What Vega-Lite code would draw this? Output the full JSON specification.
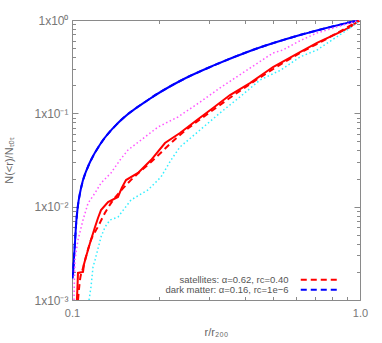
{
  "$schema": "https://vega.github.io/schema/vega-lite/v6.json",
  "width": 288,
  "height": 280,
  "autosize": {"type": "none"},
  "padding": {"left": 72, "top": 20, "right": 22, "bottom": 43},
  "background": "white",
  "config": {
    "view": {"stroke": "#8a8a8a", "strokeWidth": 1},
    "font": "Liberation Sans",
    "axis": {"labelFont": "Liberation Sans", "titleFont": "Liberation Sans", "tickColor": "#8a8a8a", "grid": false, "domain": false},
    "legend": {"rowPadding": -8}
  },
  "datasets": {
    "curves": [
      {"s": "dm", "x": 0.1008, "y": 0.00185},
      {"s": "dm", "x": 0.1016, "y": 0.00282},
      {"s": "dm", "x": 0.1024, "y": 0.00408},
      {"s": "dm", "x": 0.1032, "y": 0.0062},
      {"s": "dm", "x": 0.1049, "y": 0.0104},
      {"s": "dm", "x": 0.1066, "y": 0.014},
      {"s": "dm", "x": 0.1092, "y": 0.0193},
      {"s": "dm", "x": 0.1127, "y": 0.0253},
      {"s": "dm", "x": 0.1164, "y": 0.0316},
      {"s": "dm", "x": 0.1261, "y": 0.0481},
      {"s": "dm", "x": 0.1444, "y": 0.0788},
      {"s": "dm", "x": 0.1836, "y": 0.139},
      {"s": "dm", "x": 0.2371, "y": 0.222},
      {"s": "dm", "x": 0.3137, "y": 0.33},
      {"s": "dm", "x": 0.415, "y": 0.466},
      {"s": "dm", "x": 0.619, "y": 0.69},
      {"s": "dm", "x": 1.0, "y": 1.0},

      {"s": "dmfit", "x": 0.1005, "y": 0.0017},
      {"s": "dmfit", "x": 0.1015, "y": 0.0027},
      {"s": "dmfit", "x": 0.1023, "y": 0.0040},
      {"s": "dmfit", "x": 0.1032, "y": 0.0061},
      {"s": "dmfit", "x": 0.1049, "y": 0.0103},
      {"s": "dmfit", "x": 0.1066, "y": 0.0139},
      {"s": "dmfit", "x": 0.1092, "y": 0.0191},
      {"s": "dmfit", "x": 0.1127, "y": 0.0251},
      {"s": "dmfit", "x": 0.1164, "y": 0.0314},
      {"s": "dmfit", "x": 0.1261, "y": 0.0479},
      {"s": "dmfit", "x": 0.1444, "y": 0.0786},
      {"s": "dmfit", "x": 0.1836, "y": 0.139},
      {"s": "dmfit", "x": 0.2371, "y": 0.222},
      {"s": "dmfit", "x": 0.3137, "y": 0.33},
      {"s": "dmfit", "x": 0.415, "y": 0.466},
      {"s": "dmfit", "x": 0.619, "y": 0.69},
      {"s": "dmfit", "x": 1.0, "y": 1.0},

      {"s": "sat", "x": 0.104, "y": 0.001},
      {"s": "sat", "x": 0.1045, "y": 0.0014},
      {"s": "sat", "x": 0.1049, "y": 0.00195},
      {"s": "sat", "x": 0.1092, "y": 0.002},
      {"s": "sat", "x": 0.11, "y": 0.0024},
      {"s": "sat", "x": 0.1118, "y": 0.00289},
      {"s": "sat", "x": 0.1155, "y": 0.00408},
      {"s": "sat", "x": 0.1202, "y": 0.00605},
      {"s": "sat", "x": 0.1231, "y": 0.00756},
      {"s": "sat", "x": 0.1261, "y": 0.0092},
      {"s": "sat", "x": 0.1334, "y": 0.0112},
      {"s": "sat", "x": 0.1444, "y": 0.0127},
      {"s": "sat", "x": 0.149, "y": 0.016},
      {"s": "sat", "x": 0.154, "y": 0.0193},
      {"s": "sat", "x": 0.1695, "y": 0.023},
      {"s": "sat", "x": 0.1881, "y": 0.0316},
      {"s": "sat", "x": 0.2103, "y": 0.0481},
      {"s": "sat", "x": 0.2371, "y": 0.0615},
      {"s": "sat", "x": 0.2716, "y": 0.0849},
      {"s": "sat", "x": 0.3088, "y": 0.114},
      {"s": "sat", "x": 0.3537, "y": 0.157},
      {"s": "sat", "x": 0.415, "y": 0.211},
      {"s": "sat", "x": 0.4988, "y": 0.3135},
      {"s": "sat", "x": 0.619, "y": 0.454},
      {"s": "sat", "x": 0.709, "y": 0.568},
      {"s": "sat", "x": 0.852, "y": 0.743},
      {"s": "sat", "x": 0.923, "y": 0.84},
      {"s": "sat", "x": 1.0, "y": 1.0},

      {"s": "satfit", "x": 0.1049, "y": 0.001},
      {"s": "satfit", "x": 0.1066, "y": 0.00164},
      {"s": "satfit", "x": 0.1092, "y": 0.0022},
      {"s": "satfit", "x": 0.1118, "y": 0.0029},
      {"s": "satfit", "x": 0.1164, "y": 0.0044},
      {"s": "satfit", "x": 0.1231, "y": 0.0061},
      {"s": "satfit", "x": 0.1302, "y": 0.0086},
      {"s": "satfit", "x": 0.1366, "y": 0.0109},
      {"s": "satfit", "x": 0.1565, "y": 0.0179},
      {"s": "satfit", "x": 0.1881, "y": 0.0301},
      {"s": "satfit", "x": 0.2371, "y": 0.0586},
      {"s": "satfit", "x": 0.3088, "y": 0.1086},
      {"s": "satfit", "x": 0.415, "y": 0.206},
      {"s": "satfit", "x": 0.619, "y": 0.443},
      {"s": "satfit", "x": 0.7868, "y": 0.658},
      {"s": "satfit", "x": 1.0, "y": 1.0},

      {"s": "mag", "x": 0.1016, "y": 0.001},
      {"s": "mag", "x": 0.102, "y": 0.0018},
      {"s": "mag", "x": 0.1024, "y": 0.00268},
      {"s": "mag", "x": 0.1049, "y": 0.0044},
      {"s": "mag", "x": 0.1092, "y": 0.0072},
      {"s": "mag", "x": 0.1137, "y": 0.0109},
      {"s": "mag", "x": 0.1202, "y": 0.014},
      {"s": "mag", "x": 0.1261, "y": 0.0179},
      {"s": "mag", "x": 0.1366, "y": 0.023},
      {"s": "mag", "x": 0.1468, "y": 0.0316},
      {"s": "mag", "x": 0.1565, "y": 0.0405},
      {"s": "mag", "x": 0.1793, "y": 0.0558},
      {"s": "mag", "x": 0.1989, "y": 0.0714},
      {"s": "mag", "x": 0.2334, "y": 0.0914},
      {"s": "mag", "x": 0.2783, "y": 0.132},
      {"s": "mag", "x": 0.3265, "y": 0.187},
      {"s": "mag", "x": 0.4052, "y": 0.291},
      {"s": "mag", "x": 0.4988, "y": 0.443},
      {"s": "mag", "x": 0.54, "y": 0.477},
      {"s": "mag", "x": 0.619, "y": 0.6},
      {"s": "mag", "x": 0.709, "y": 0.726},
      {"s": "mag", "x": 0.923, "y": 0.929},
      {"s": "mag", "x": 1.0, "y": 1.0},

      {"s": "cyan", "x": 0.1146, "y": 0.001},
      {"s": "cyan", "x": 0.1164, "y": 0.00138},
      {"s": "cyan", "x": 0.1183, "y": 0.00226},
      {"s": "cyan", "x": 0.1202, "y": 0.00268},
      {"s": "cyan", "x": 0.1261, "y": 0.00473},
      {"s": "cyan", "x": 0.1302, "y": 0.00605},
      {"s": "cyan", "x": 0.1355, "y": 0.0072},
      {"s": "cyan", "x": 0.1444, "y": 0.00775},
      {"s": "cyan", "x": 0.1603, "y": 0.0118},
      {"s": "cyan", "x": 0.1836, "y": 0.0151},
      {"s": "cyan", "x": 0.2037, "y": 0.0208},
      {"s": "cyan", "x": 0.2207, "y": 0.0316},
      {"s": "cyan", "x": 0.2371, "y": 0.0436},
      {"s": "cyan", "x": 0.2783, "y": 0.0663},
      {"s": "cyan", "x": 0.3265, "y": 0.101},
      {"s": "cyan", "x": 0.383, "y": 0.15},
      {"s": "cyan", "x": 0.4496, "y": 0.2276},
      {"s": "cyan", "x": 0.53, "y": 0.29},
      {"s": "cyan", "x": 0.619, "y": 0.402},
      {"s": "cyan", "x": 0.709, "y": 0.477},
      {"s": "cyan", "x": 0.923, "y": 0.82},
      {"s": "cyan", "x": 1.0, "y": 1.0}
    ]
  },
  "data": {"name": "curves"},
  "resolve": {"axis": {"x": "independent", "y": "independent"}},
  "layer": [
    {
      "transform": [{"filter": "datum.s == 'dm'"}],
      "mark": {"type": "line", "color": "#0000ff", "strokeWidth": 2, "clip": true, "interpolate": "monotone"},
      "encoding": {
        "x": {"field": "x", "type": "quantitative", "scale": {"type": "log", "domain": [0.1, 1], "nice": false},
          "axis": {"orient": "bottom", "values": [0.1, 1], "labelExpr": "datum.value < 0.5 ? '0.1' : '1.0'", "ticks": false, "labelPadding": 7, "labelFontSize": 11, "labelColor": "#777", "labelFlush": false,
            "title": "r/r₂₀₀", "titleFontSize": 11, "titleFontWeight": "normal", "titleColor": "#666", "titlePadding": 8}},
        "y": {"field": "y", "type": "quantitative", "scale": {"type": "log", "domain": [0.001, 1], "nice": false},
          "axis": {"orient": "left", "values": [0.001, 0.01, 0.1, 1], "labelExpr": "datum.value > 0.5 ? '1x10⁰' : datum.value > 0.05 ? '1x10⁻¹' : datum.value > 0.005 ? '1x10⁻²' : '1x10⁻³'", "ticks": false, "labelPadding": 4, "labelFontSize": 12, "labelColor": "#777", "labelFlush": false,
            "title": "N(<r)/Nₜₒₜ", "titleFontSize": 11, "titleFontWeight": "normal", "titleColor": "#666", "titleX": -58}}
      }
    },
    {
      "transform": [{"filter": "datum.s == 'dmfit' || datum.s == 'satfit'"}],
      "mark": {"type": "line", "strokeWidth": 2, "strokeDash": [6, 4], "clip": true, "interpolate": "monotone"},
      "encoding": {
        "x": {"field": "x", "type": "quantitative", "axis": {"orient": "bottom", "values": [0.1, 1], "labels": false, "tickSize": -6, "title": null}},
        "y": {"field": "y", "type": "quantitative", "axis": {"orient": "left", "values": [0.001, 0.01, 0.1, 1], "labels": false, "tickSize": -6, "title": null}},
        "color": {"field": "s", "type": "nominal", "sort": ["satfit", "dmfit"],
          "scale": {"domain": ["satfit", "dmfit"], "range": ["#ff0000", "#0000ff"]},
          "legend": {"orient": "none", "legendX": 243, "legendY": 255, "title": null, "symbolType": "M-6.33,0H6.33", "symbolSize": 36, "symbolStrokeWidth": 2, "symbolDash": [6, 4],
            "labelAlign": "right", "labelOffset": -36, "labelFontSize": 9.5, "labelColor": "#555", "rowPadding": -8, "padding": 0,
            "labelExpr": "datum.value == 'satfit' ? 'satellites: α=0.62, rᴄ=0.40' : 'dark matter: α=0.16, rᴄ=1e−6'"}}
      }
    },
    {
      "transform": [{"filter": "datum.s == 'sat'"}],
      "mark": {"type": "line", "color": "#ff0000", "strokeWidth": 2, "clip": true},
      "encoding": {
        "x": {"field": "x", "type": "quantitative", "axis": {"orient": "bottom", "values": [0.2, 0.3, 0.4, 0.5, 0.6, 0.7, 0.8, 0.9], "labels": false, "tickSize": -3.5, "title": null}},
        "y": {"field": "y", "type": "quantitative", "axis": {"orient": "left", "values": [0.002, 0.003, 0.004, 0.005, 0.006, 0.007, 0.008, 0.009, 0.02, 0.03, 0.04, 0.05, 0.06, 0.07, 0.08, 0.09, 0.2, 0.3, 0.4, 0.5, 0.6, 0.7, 0.8, 0.9], "labels": false, "tickSize": -3.5, "title": null}}
      }
    },
    {
      "transform": [{"filter": "datum.s == 'mag'"}],
      "mark": {"type": "line", "color": "#ff55ff", "strokeWidth": 1.5, "strokeDash": [1.5, 2.5], "clip": true},
      "encoding": {
        "x": {"field": "x", "type": "quantitative", "axis": {"orient": "top", "values": [0.1, 1], "labels": false, "tickSize": -6, "title": null}},
        "y": {"field": "y", "type": "quantitative", "axis": {"orient": "right", "values": [0.001, 0.01, 0.1, 1], "labels": false, "tickSize": -6, "title": null}}
      }
    },
    {
      "transform": [{"filter": "datum.s == 'cyan'"}],
      "mark": {"type": "line", "color": "#33eeff", "strokeWidth": 1.5, "strokeDash": [1.5, 2.5], "clip": true},
      "encoding": {
        "x": {"field": "x", "type": "quantitative", "axis": {"orient": "top", "values": [0.2, 0.3, 0.4, 0.5, 0.6, 0.7, 0.8, 0.9], "labels": false, "tickSize": -3.5, "title": null}},
        "y": {"field": "y", "type": "quantitative", "axis": {"orient": "right", "values": [0.002, 0.003, 0.004, 0.005, 0.006, 0.007, 0.008, 0.009, 0.02, 0.03, 0.04, 0.05, 0.06, 0.07, 0.08, 0.09, 0.2, 0.3, 0.4, 0.5, 0.6, 0.7, 0.8, 0.9], "labels": false, "tickSize": -3.5, "title": null}}
      }
    }
  ]
}
